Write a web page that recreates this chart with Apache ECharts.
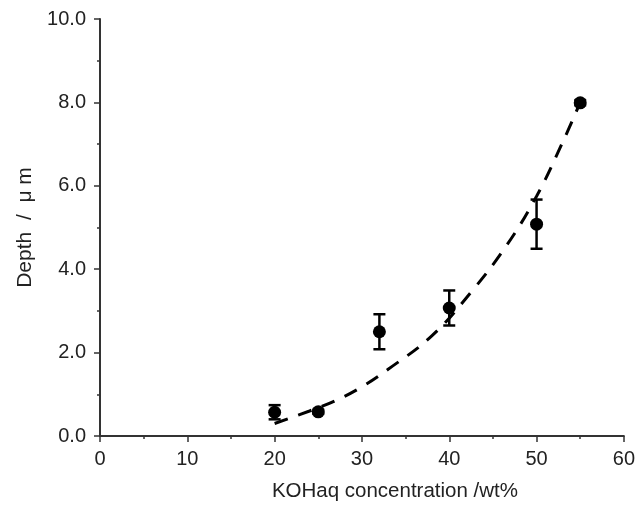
<!DOCTYPE html>
<html>
<head>
<meta charset="utf-8">
<script src="https://cdn.jsdelivr.net/npm/echarts@6/dist/echarts.min.js"></script>
<style>
  html, body { margin: 0; padding: 0; background: #fff; }
  #chart { width: 638px; height: 514px; }
</style>
</head>
<body>
<div id="chart"></div>
<script>
// Measured etch depth vs. KOH concentration
var concentration = [20, 25, 32, 40, 50, 55];
var depth = [0.57, 0.58, 2.50, 3.07, 5.08, 7.99];
var depthErr = [0.17, 0.05, 0.42, 0.42, 0.59, 0.06];

// Dashed trend curve, sampled along its path
var fitX = [20, 24, 27, 30, 33, 38, 42.5, 46.5, 50, 53, 55];
var fitY = [0.3, 0.6, 0.85, 1.18, 1.6, 2.4, 3.45, 4.55, 5.75, 7.05, 8.0];

var points = concentration.map(function (x, i) { return [x, depth[i]]; });
var errBars = concentration.map(function (x, i) { return [x, depth[i] - depthErr[i], depth[i] + depthErr[i]]; });
var fitLine = fitX.map(function (x, i) { return [x, fitY[i]]; });

var textColor = '#222';
var axisColor = '#333';
var fontFamily = '"Liberation Sans", Arial, sans-serif';
var fontSize = 20;

var chart = echarts.init(document.getElementById('chart'), null, { renderer: 'canvas' });

chart.setOption({
  animation: false,
  backgroundColor: '#fff',
  grid: { left: 100, right: 13, top: 19, bottom: 78 },
  xAxis: {
    type: 'value',
    min: 0, max: 60, interval: 10,
    name: 'KOHaq concentration /wt%',
    nameLocation: 'middle',
    nameGap: 45,
    nameTextStyle: { color: textColor, fontSize: 20.5, fontFamily: fontFamily, padding: [0, 0, 0, 66] },
    axisLine: { show: true, lineStyle: { color: axisColor, width: 2 } },
    axisTick: { show: true, inside: false, length: 6, lineStyle: { color: axisColor, width: 1.5 } },
    minorTick: { show: true, splitNumber: 2, length: 3, lineStyle: { color: axisColor, width: 1.5 } },
    axisLabel: { color: textColor, fontSize: fontSize, fontFamily: fontFamily, margin: 13 },
    splitLine: { show: false },
    minorSplitLine: { show: false }
  },
  yAxis: {
    type: 'value',
    min: 0, max: 10, interval: 2,
    name: 'Depth  /  μ m',
    nameLocation: 'middle',
    nameGap: 63,
    nameTextStyle: { color: textColor, fontSize: 21, fontFamily: fontFamily },
    axisLine: { show: true, lineStyle: { color: axisColor, width: 2 } },
    axisTick: { show: true, inside: false, length: 6, lineStyle: { color: axisColor, width: 1.5 } },
    minorTick: { show: true, splitNumber: 2, length: 3, lineStyle: { color: axisColor, width: 1.5 } },
    axisLabel: {
      color: textColor, fontSize: fontSize, fontFamily: fontFamily, margin: 14,
      formatter: function (v) { return v.toFixed(1); }
    },
    splitLine: { show: false },
    minorSplitLine: { show: false }
  },
  series: [
    {
      type: 'line',
      data: fitLine,
      smooth: 0.4,
      showSymbol: false,
      symbol: 'none',
      lineStyle: { color: '#000', width: 3, type: [14, 11] },
      z: 1
    },
    {
      type: 'custom',
      data: errBars,
      z: 2,
      renderItem: function (params, api) {
        var x = api.value(0);
        var top = api.coord([x, api.value(2)]);
        var bot = api.coord([x, api.value(1)]);
        var cap = 6;
        var st = { stroke: '#000', lineWidth: 2.5 };
        return {
          type: 'group',
          children: [
            { type: 'line', shape: { x1: top[0], y1: top[1], x2: bot[0], y2: bot[1] }, style: st },
            { type: 'line', shape: { x1: top[0] - cap, y1: top[1], x2: top[0] + cap, y2: top[1] }, style: st },
            { type: 'line', shape: { x1: bot[0] - cap, y1: bot[1], x2: bot[0] + cap, y2: bot[1] }, style: st }
          ]
        };
      }
    },
    {
      type: 'scatter',
      data: points,
      symbol: 'circle',
      symbolSize: 13,
      itemStyle: { color: '#000', opacity: 1 },
      z: 3
    }
  ]
});
</script>
</body>
</html>
